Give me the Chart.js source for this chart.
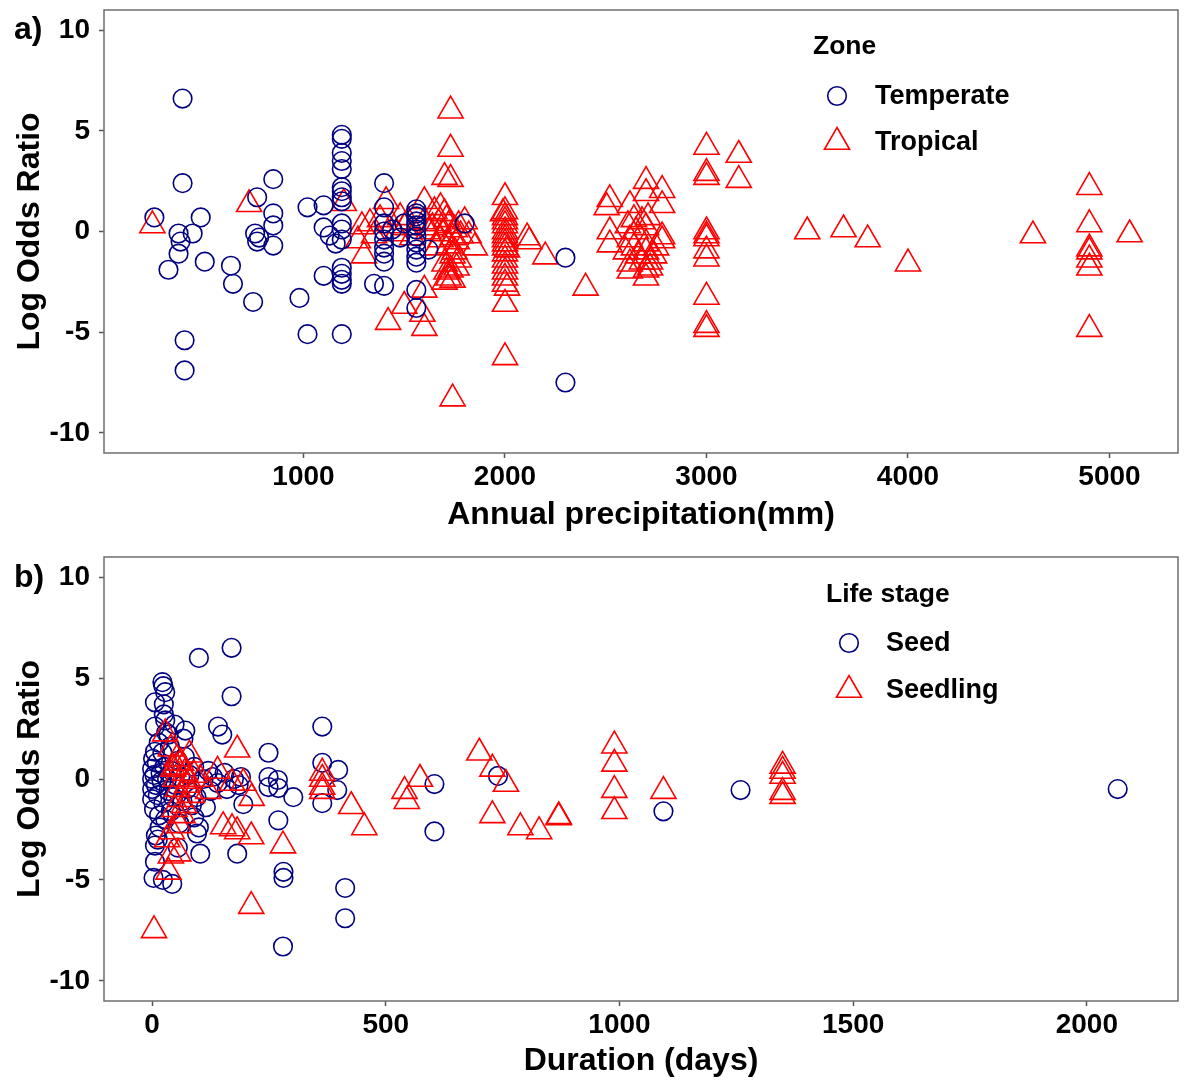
<!DOCTYPE html>
<html>
<head>
<title>Log odds ratio vs precipitation and duration</title>
<script src="https://cdn.jsdelivr.net/npm/chart.js@4.4.1/dist/chart.umd.min.js"></script>
<style>
  body { margin: 0; background: #fff; }
  canvas { display: block; }
</style>
</head>
<body>
<canvas id="chartA" width="1187" height="540"></canvas>
<canvas id="chartB" width="1187" height="542"></canvas>
<script>
// ---- data: panel a (annual precipitation mm, log odds ratio) ----
const temperate = [
  [400,6.6],[400,2.4],[260,0.7],[380,-0.1],[390,-0.5],[380,-1.1],[330,-1.9],[450,-0.1],[490,0.7],
  [510,-1.5],[410,-5.4],[410,-6.9],[640,-1.7],[650,-2.6],[750,-3.5],[770,1.7],[760,-0.1],[770,-0.5],
  [780,-0.3],[850,2.6],[850,0.9],[850,0.3],[850,-0.7],[980,-3.3],[1020,1.2],[1020,-5.1],[1100,1.3],
  [1100,0.2],[1130,-0.2],[1160,-0.6],[1100,-2.2],[1190,-5.1],
  [1190,4.8],[1190,4.6],[1190,3.9],[1190,3.5],[1190,3.1],[1190,2.2],[1190,2.0],[1190,1.7],[1190,1.5],
  [1190,0.4],[1190,0.1],[1190,-0.4],[1190,-1.8],[1190,-2.1],[1190,-2.4],[1190,-2.6],
  [1400,2.4],[1400,1.2],[1400,0.4],[1400,0.0],[1400,-0.4],[1400,-0.8],[1400,-1.1],[1400,-1.5],
  [1350,-2.6],[1400,-2.7],[1480,-0.3],[1500,0.4],[1440,0.1],
  [1560,1.1],[1560,0.9],[1560,0.75],[1560,0.5],[1560,0.3],[1560,0.1],[1560,-0.25],[1560,-0.55],
  [1560,-0.9],[1560,-1.25],[1560,-1.55],[1560,-2.9],[1560,-3.8],
  [1620,-0.9],[1800,0.4],[2300,-1.3],[2300,-7.5]
];
const tropical = [
  [250,0.3],[730,1.35],[1200,1.4],[1290,0.25],[1270,-0.45],[1300,-1.2],[1330,0.4],[1350,-0.2],
  [1380,0.6],[1410,1.5],[1420,-4.5],[1440,0.3],[1460,-0.1],[1480,0.7],[1500,-3.7],[1500,0.2],
  [1520,0.5],[1540,-0.3],[1600,1.5],[1600,0.5],[1590,-4.1],[1600,-4.8],[1600,-2.9],[1620,0.0],
  [1640,0.2],[1650,1.0],[1660,-0.8],[1670,0.4],[1680,1.2],[1680,-0.4],[1700,0.9],[1700,2.7],
  [1730,2.6],[1730,6.0],[1730,4.1],[1740,-8.3],
  [1700,-1.6],[1710,-2.0],[1720,-2.3],[1720,0.3],[1740,-0.3],[1740,-1.2],[1750,0.1],[1760,-0.5],
  [1760,-1.8],[1740,-2.4],[1770,0.3],[1780,-0.2],[1800,0.5],[1820,-0.2],[1850,-0.8],[1700,-2.5],
  [1730,-1.9],[1750,-1.0],[1720,-0.7],[1690,-0.1],[1770,-1.4],[1710,0.6],
  [2000,1.7],[2000,1.0],[2000,0.7],[2000,0.5],[2000,0.3],[2000,0.0],[2000,-0.2],[2000,-0.4],
  [2000,-0.6],[2000,-0.8],[2000,-1.1],[2000,-1.4],[2000,-1.7],[2000,-2.0],[2000,-2.3],[2000,-2.6],
  [2000,-3.6],[2000,-6.25],[2010,-2.8],[2010,-0.9],[1990,0.9],
  [2110,-0.3],[2120,-0.5],[2200,-1.25],[2400,-2.8],
  [2520,1.6],[2505,1.2],[2520,0.0],[2520,-0.65],[2620,1.3],[2700,2.5],[2700,1.9],[2780,2.05],
  [2780,1.3],[2610,0.3],[2680,0.5],[2780,-0.25],[2780,-0.45],[2700,-2.3],[2620,-1.95],[2640,-0.8],
  [2660,-1.2],[2700,-0.6],[2700,-1.0],[2720,-1.5],[2720,-1.8],[2680,-1.5],[2600,-1.0],[2620,-0.4],
  [2650,0.0],[2700,0.2],[2750,-0.8],[2740,-1.2],[2700,-1.9],[2620,-1.6],[2710,0.7],[2640,0.6],
  [3000,4.2],[3000,2.9],[3000,2.7],[3000,0.0],[3000,-0.2],[3000,-0.35],[3000,-0.95],[3000,-1.35],
  [3000,-3.25],[3000,-4.65],[3000,-4.85],
  [3160,3.8],[3160,2.55],[3500,0.0],[3680,0.1],[3800,-0.4],[4000,-1.6],[4620,-0.2],
  [4900,2.2],[4900,0.35],[4900,-0.85],[4900,-1.0],[4900,-1.4],[4900,-1.8],[4900,-4.85],
  [5100,-0.15]
];

// ---- data: panel b (duration days, log odds ratio) ----
const seed = [
  [100,6.0],[170,6.5],[170,4.1],[22,4.8],[24,4.6],[28,4.3],[6,3.8],[25,3.7],[25,3.2],[28,2.9],
  [6,2.6],[71,2.4],[6,1.35],[67,2.0],[141,2.6],[150,2.2],[249,1.3],[364,2.6],[364,0.8],[364,-1.2],
  [398,0.45],[396,-0.55],[249,0.1],[249,-0.4],[269,-0.05],[270,-0.45],[302,-0.9],[270,-2.05],
  [182,-3.7],[195,-1.25],[281,-4.6],[281,-4.9],[413,-5.4],[413,-6.9],[280,-8.3],[604,-0.25],
  [604,-2.6],[103,-3.7],[96,-2.7],[3,-4.9],[23,-5.0],[43,-5.2],[6,-4.1],[6,-3.3],[740,0.15],
  [1094,-1.6],[1259,-0.55],[2066,-0.5],
  [0,0.5],[0,0.0],[0,-0.5],[0,-1.0],[2,1.0],[4,-1.5],[5,0.2],[8,-0.3],[10,0.8],[12,-0.8],[14,1.8],
  [15,-1.8],[16,-2.4],[18,0.3],[20,-0.1],[22,1.3],[24,-1.2],[26,0.6],[28,-2.0],[30,2.3],[32,0.0],
  [35,-0.6],[38,1.6],[40,-1.6],[42,0.4],[45,-0.9],[48,2.7],[50,-0.3],[55,0.9],[58,-2.2],[60,0.1],
  [65,-1.1],[70,1.1],[75,-0.5],[80,0.2],[85,-1.3],[90,0.6],[95,-0.9],[110,0.0],[115,-1.4],[120,0.4],
  [125,-0.6],[130,0.1],[140,-0.2],[155,0.3],[160,-0.5],[175,0.0],[185,-0.3],[190,0.1],[90,-1.9],
  [100,-2.4],[8,-2.8],[12,-3.0],[35,2.2],[55,-3.4]
];
const seedling = [
  [4,-7.5],[212,-6.3],[182,1.45],[280,-3.3],[426,-1.35],[454,-2.4],[540,-0.6],[545,-1.1],[573,0.0],
  [700,1.3],[728,0.5],[757,-0.25],[728,-1.8],[788,-2.4],[828,-2.6],[870,-1.85],[870,-1.9],
  [989,1.65],[989,0.75],[989,-0.55],[989,-1.6],[1094,-0.6],
  [1349,0.65],[1349,0.4],[1349,0.15],[1349,-0.65],[1349,-0.85],
  [364,0.3],[364,0.0],[364,-0.4],[364,-0.6],[171,-0.2],[195,-0.2],[212,-2.85],[152,-2.35],
  [171,-2.45],[182,-2.6],[213,-0.95],[103,0.0],
  [28,2.25],[53,1.0],[32,-3.0],[40,-3.8],[35,-4.6],[56,-3.7],[40,1.5],[45,0.5],[50,0.0],[55,-0.5],
  [60,-1.0],[48,-1.5],[62,0.8],[70,0.3],[75,-0.3],[65,-1.8],[80,1.2],[85,-0.8],[58,-2.3],[90,0.2],
  [120,-0.6],[140,0.4],[42,-2.6],[68,-1.3],[52,0.6],[78,-0.1]
];

const yTicks = [-10, -5, 0, 5, 10];
const xTicksA = [1000, 2000, 3000, 4000, 5000];
const xTicksB = [0, 500, 1000, 1500, 2000];

const NAVY = '#000080';
const RED = '#FF0000';
const FONT = '"Liberation Sans", Arial, sans-serif';

function toXY(pts) { return pts.map(p => ({ x: p[0], y: p[1] })); }

function marker(ctx, style, x, y, r) {
  ctx.beginPath();
  if (style === 'circle') {
    ctx.arc(x, y, r, 0, Math.PI * 2);
  } else {
    ctx.moveTo(x, y - r);
    ctx.lineTo(x + r * Math.sin(2 * Math.PI / 3), y - r * Math.cos(2 * Math.PI / 3));
    ctx.lineTo(x + r * Math.sin(4 * Math.PI / 3), y - r * Math.cos(4 * Math.PI / 3));
    ctx.closePath();
  }
  ctx.stroke();
}

// border box, panel tag and the legend inside the plot
const panelDecor = {
  id: 'panelDecor',
  afterDraw(chart, args, o) {
    const { ctx, chartArea: a } = chart;
    ctx.save();
    ctx.strokeStyle = '#6e6e6e';
    ctx.lineWidth = 1.5;
    ctx.strokeRect(a.left, a.top, a.right - a.left, a.bottom - a.top);

    ctx.fillStyle = '#000';
    ctx.textAlign = 'left';
    ctx.textBaseline = 'middle';
    ctx.font = 'bold 32px ' + FONT;
    ctx.fillText(o.tag, 14, o.tagY);

    ctx.font = 'bold 26.5px ' + FONT;
    ctx.fillText(o.title, o.lx, o.ly);
    ctx.font = 'bold 27px ' + FONT;
    o.items.forEach((it, i) => {
      ctx.strokeStyle = it.color;
      ctx.lineWidth = 1.6;
      marker(ctx, it.style, o.mx, o.rows[i], it.r);
      ctx.fillText(it.label, o.tx, o.rows[i] + 1);
    });
    ctx.restore();
  }
};

function makeChart(id, c) {
  const tickFont = { family: FONT, size: 28, weight: 'bold' };
  const titleFont = { family: FONT, size: 32, weight: 'bold' };
  return new Chart(document.getElementById(id), {
    type: 'scatter',
    data: {
      datasets: [
        { label: c.names[0], data: toXY(c.circles), order: c.circleOrder,
          pointStyle: 'circle', pointRadius: 9.3, pointHoverRadius: 9.3,
          borderColor: NAVY, borderWidth: 1.6, backgroundColor: 'rgba(0,0,0,0)' },
        { label: c.names[1], data: toXY(c.triangles), order: c.triOrder,
          pointStyle: 'triangle', pointRadius: 14.5, pointHoverRadius: 14.5,
          borderColor: RED, borderWidth: 1.6, backgroundColor: 'rgba(0,0,0,0)' }
      ]
    },
    options: {
      responsive: false,
      animation: false,
      devicePixelRatio: 1,
      layout: { autoPadding: false, padding: { left: 0, right: 9, top: c.padTop, bottom: 0 } },
      events: [],
      plugins: {
        legend: { display: false },
        tooltip: { enabled: false },
        panelDecor: {
          tag: c.tag, tagY: c.tagY, title: c.legendTitle, lx: c.lx, ly: c.ly,
          mx: c.mx, tx: c.tx, rows: c.rows,
          items: [
            { label: c.names[0], style: 'circle', color: NAVY, r: 9.3 },
            { label: c.names[1], style: 'triangle', color: RED, r: 14.5 }
          ]
        }
      },
      scales: {
        x: {
          type: 'linear', min: c.xMin, max: c.xMax,
          afterBuildTicks: s => { s.ticks = c.xTicks.map(v => ({ value: v })); },
          afterFit: s => { s.height = c.xAxisH; s.paddingLeft = 0; s.paddingRight = 0; },
          grid: { drawOnChartArea: false, color: '#555', tickLength: 5, tickWidth: 1.5 },
          border: { display: false },
          ticks: { font: tickFont, color: '#000', padding: 2, maxRotation: 0,
                   callback: v => String(v) },
          title: { display: true, text: c.xTitle, font: titleFont, color: '#000',
                   padding: { top: 0, bottom: c.xTitlePad } }
        },
        y: {
          type: 'linear', min: -11, max: 11,
          afterBuildTicks: s => { s.ticks = yTicks.map(v => ({ value: v })); },
          afterFit: s => { s.width = 104; s.paddingTop = 0; s.paddingBottom = 0; },
          grid: { drawOnChartArea: false, color: '#555', tickLength: 5, tickWidth: 1.5 },
          border: { display: false },
          ticks: { font: tickFont, color: '#000', padding: 9, callback: v => String(v) },
          title: { display: true, text: 'Log Odds Ratio', font: titleFont, color: '#000',
                   padding: { top: 11, bottom: 0 } }
        }
      }
    },
    plugins: [panelDecor]
  });
}

makeChart('chartA', {
  circles: temperate, triangles: tropical, names: ['Temperate', 'Tropical'],
  circleOrder: 0, triOrder: 1,
  xMin: 10, xMax: 5340, xTicks: xTicksA, xTitle: 'Annual precipitation(mm)',
  padTop: 10, xAxisH: 87, xTitlePad: 6,
  tag: 'a)', tagY: 30, legendTitle: 'Zone', lx: 813, ly: 47,
  mx: 837, tx: 875, rows: [96, 142]
});

makeChart('chartB', {
  circles: seed, triangles: seedling, names: ['Seed', 'Seedling'],
  circleOrder: 1, triOrder: 0,
  xMin: -103, xMax: 2195, xTicks: xTicksB, xTitle: 'Duration (days)',
  padTop: 17, xAxisH: 81, xTitlePad: 2,
  tag: 'b)', tagY: 38, legendTitle: 'Life stage', lx: 826, ly: 55,
  mx: 849, tx: 886, rows: [103, 150]
});
</script>
</body>
</html>
